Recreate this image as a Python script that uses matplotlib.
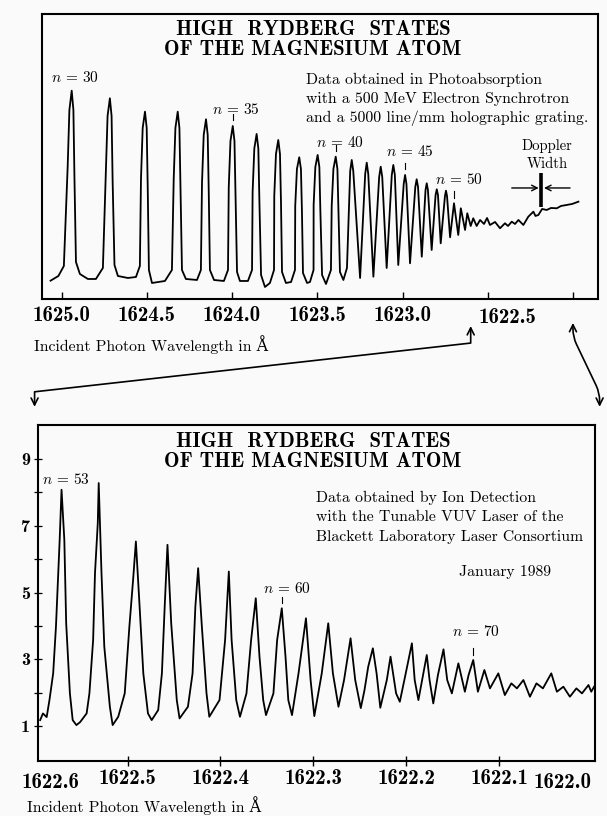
import matplotlib
matplotlib.use("Agg")
import matplotlib.pyplot as plt
from matplotlib.patches import ConnectionPatch
from matplotlib.transforms import blended_transform_factory

plt.rcParams['mathtext.fontset'] = 'cm'
plt.rcParams['axes.unicode_minus'] = False

# --- top panel: photoabsorption trace (wavelength in A, absorption arb. units)
top_wl = [1625.065, 1625.019, 1624.987, 1624.9645, 1624.9545, 1624.941, 1624.931, 1624.925,
          1624.916, 1624.893, 1624.846, 1624.799,
          1624.758, 1624.7405, 1624.7305, 1624.717, 1624.707, 1624.701, 1624.690, 1624.670,
          1624.611, 1624.564,
          1624.541, 1624.5345, 1624.5245, 1624.511, 1624.501, 1624.495,
          1624.488, 1624.470, 1624.394,
          1624.353, 1624.3425, 1624.3325, 1624.319, 1624.309, 1624.303,
          1624.294, 1624.271, 1624.206,
          1624.183, 1624.1765, 1624.1665, 1624.153, 1624.143, 1624.137,
          1624.130, 1624.106, 1624.048,
          1624.024, 1624.0195, 1624.0095, 1623.996, 1623.986, 1623.980,
          1623.971, 1623.954, 1623.907,
          1623.883, 1623.8795, 1623.8695, 1623.856, 1623.846, 1623.840,
          1623.830, 1623.807, 1623.778,
          1623.754, 1623.7525, 1623.7425, 1623.729, 1623.719, 1623.713,
          1623.707, 1623.684, 1623.654,
          1623.631, 1623.6295, 1623.6195, 1623.606, 1623.596, 1623.590,
          1623.584, 1623.560, 1623.543,
          1623.522, 1623.5215, 1623.5115, 1623.498, 1623.488, 1623.482,
          1623.472, 1623.449,
          1623.420, 1623.4155, 1623.4055, 1623.392, 1623.382, 1623.376,
          1623.367, 1623.347,
          1623.326, 1623.307, 1623.298, 1623.289, 1623.249,
          1623.219, 1623.210, 1623.201, 1623.171,
          1623.137, 1623.128, 1623.119, 1623.093,
          1623.063, 1623.054, 1623.045, 1623.025,
          1622.993, 1622.985, 1622.977, 1622.956,
          1622.925, 1622.917, 1622.909, 1622.887,
          1622.865, 1622.858, 1622.851, 1622.829,
          1622.806, 1622.799, 1622.792, 1622.776,
          1622.751, 1622.745, 1622.739, 1622.721,
          1622.698, 1622.673, 1622.658, 1622.633,
          1622.620, 1622.600, 1622.585, 1622.565, 1622.545, 1622.522, 1622.504, 1622.487,
          1622.457, 1622.428, 1622.399, 1622.381, 1622.359, 1622.340, 1622.320, 1622.291,
          1622.262, 1622.232, 1622.220, 1622.203, 1622.181, 1622.154, 1622.129, 1622.095,
          1622.070, 1622.036, 1622.005, 1621.968]
top_sig = [1.83, 2.30, 3.30, 13.3, 18.9, 20.83, 18.9, 12.3,
           3.70, 2.50, 2.00, 2.00,
           3.10, 12.8, 18.3, 20.07, 18.3, 11.9, 3.40, 2.30,
           2.10, 2.20,
           3.30, 12.0, 17.1, 18.73, 17.1, 11.2,
           2.90, 1.60, 1.80,
           2.90, 12.0, 17.1, 18.73, 17.1, 11.2,
           2.90, 2.00, 1.90,
           2.90, 11.6, 16.4, 17.97, 16.4, 10.8,
           2.90, 1.90, 1.80,
           2.90, 11.2, 15.8, 17.30, 15.8, 10.4,
           2.70, 1.80, 1.80,
           2.90, 10.7, 15.05, 16.50, 15.05, 10.0,
           2.40, 1.20, 1.60,
           2.90, 10.3, 14.5, 15.90, 14.5, 9.6,
           2.70, 1.60, 1.70,
           2.90, 9.3, 13.0, 14.17, 13.0, 8.7,
           2.60, 1.60, 1.70,
           2.90, 9.4, 13.2, 14.40, 13.2, 8.8,
           2.40, 1.50,
           2.90, 9.3, 13.0, 14.23, 13.0, 8.7,
           2.70, 1.90,
           3.10, 12.8, 13.90, 12.8, 2.10,
           12.5, 13.63, 12.5, 2.23,
           12.2, 13.23, 12.2, 3.10,
           12.4, 13.40, 12.4, 3.40,
           11.5, 12.40, 11.5, 3.57,
           11.2, 11.97, 11.2, 4.23,
           10.9, 11.57, 10.9, 4.90,
           10.4, 10.97, 10.4, 5.57,
           10.3, 10.83, 10.3, 6.17,
           9.57, 6.40, 9.07, 6.90,
           8.57, 7.30, 8.07, 7.30, 7.90, 7.50, 8.10, 7.40,
           7.70, 7.07, 7.57, 7.30, 7.73, 7.50, 7.90, 7.40,
           8.23, 8.73, 8.30, 8.40, 9.00, 8.90, 9.10, 9.07,
           9.30, 9.40, 9.50, 9.73]

top_ticks = [1625.0, 1624.5, 1624.0, 1623.5, 1623.0, 1622.5, 1622.0]
top_ticklabels = ['1625.0', '1624.5', '1624.0', '1623.5', '1623.0', '1622.5', '']

top_n = [30, 35, 40, 45, 50]
top_n_wl = [1624.941, 1623.996, 1623.392, 1622.985, 1622.698]
top_n_sig = [20.83, 17.30, 14.23, 12.40, 9.57]

# Doppler width marker
dop_left, dop_right = 1622.359, 1622.017
dop_tip_a, dop_tip_b = 1622.201, 1622.170
dop_bar = 1622.186
dop_level = 11.1
dop_bar_lo, dop_bar_hi = 9.2, 12.6

# --- bottom panel: ion detection trace
bot_wl = [1622.594, 1622.591, 1622.587, 1622.584, 1622.580, 1622.577, 1622.573, 1622.571,
          1622.568, 1622.566, 1622.562, 1622.559, 1622.555, 1622.551, 1622.544, 1622.541,
          1622.537, 1622.535, 1622.532, 1622.531, 1622.528, 1622.525, 1622.519, 1622.516,
          1622.510, 1622.503, 1622.498, 1622.494, 1622.491, 1622.487, 1622.483, 1622.478,
          1622.474, 1622.467, 1622.463, 1622.460, 1622.457, 1622.453, 1622.447, 1622.444,
          1622.435, 1622.430, 1622.427, 1622.424, 1622.420, 1622.415, 1622.412, 1622.401,
          1622.395, 1622.391, 1622.388, 1622.383, 1622.379, 1622.372, 1622.367, 1622.362,
          1622.358, 1622.354, 1622.351, 1622.343, 1622.339, 1622.334, 1622.330, 1622.327,
          1622.323, 1622.316, 1622.308, 1622.303, 1622.299, 1622.291, 1622.284, 1622.279,
          1622.273, 1622.267, 1622.260, 1622.255, 1622.249, 1622.245, 1622.241, 1622.236,
          1622.232, 1622.228, 1622.221, 1622.217, 1622.211, 1622.207, 1622.201, 1622.194,
          1622.191, 1622.187, 1622.183, 1622.178, 1622.175, 1622.171, 1622.166, 1622.160,
          1622.156, 1622.151, 1622.144, 1622.137, 1622.133, 1622.128, 1622.123, 1622.116,
          1622.110, 1622.101, 1622.094, 1622.087, 1622.081, 1622.074, 1622.067, 1622.060,
          1622.053, 1622.044, 1622.038, 1622.031, 1622.024, 1622.017, 1622.011, 1622.004,
          1622.001, 1621.998]
bot_sig = [1.18, 1.38, 1.27, 1.78, 2.58, 3.98, 6.58, 8.08,
           6.58, 4.08, 1.98, 1.18, 1.03, 1.12, 1.38, 1.98,
           3.58, 5.58, 7.08, 8.28, 5.58, 3.38, 1.58, 1.03,
           1.28, 1.98, 3.98, 5.38, 6.53, 4.58, 2.58, 1.38,
           1.18, 1.48, 2.58, 4.58, 6.43, 4.08, 1.78, 1.23,
           1.58, 2.58, 4.58, 5.73, 3.98, 1.98, 1.28, 1.78,
           3.58, 5.63, 3.58, 1.78, 1.28, 1.98, 3.58, 4.83,
           3.08, 1.78, 1.33, 1.98, 3.58, 4.53, 3.08, 1.78,
           1.33, 2.58, 4.23, 2.38, 1.30, 2.58, 4.08, 2.58,
           1.58, 2.38, 3.63, 2.38, 1.54, 2.08, 2.78, 3.33,
           2.58, 1.55, 2.38, 3.08, 1.98, 1.73, 2.53, 3.48,
           2.38, 1.78, 2.38, 3.13, 2.38, 1.68, 2.53, 3.30,
           2.38, 1.98, 2.88, 2.03, 2.53, 2.98, 2.03, 2.68,
           2.13, 2.58, 1.93, 2.28, 2.13, 2.38, 1.88, 2.28,
           2.13, 2.58, 2.03, 2.18, 1.88, 2.13, 1.98, 2.23,
           2.03, 2.18]

bot_ticks = [1622.5, 1622.4, 1622.3, 1622.2, 1622.1]
bot_ticklabels = ['1622.5', '1622.4', '1622.3', '1622.2', '1622.1']
bot_yticks = [1, 2, 3, 4, 5, 6, 7, 8, 9]
bot_yticklabels = ['1', '', '3', '', '5', '', '7', '', '9']

bot_n = [53, 60, 70]
bot_n_wl = [1622.571, 1622.334, 1622.128]
bot_n_sig = [8.08, 4.53, 2.98]

RM = ['cmr10', 'DejaVu Serif']
BF = ['cmb10', 'DejaVu Serif']
TICK_FS = 15
TITLE_FS = 15
TEXT_FS = 11.3

fig = plt.figure(figsize=(6.07, 8.16), dpi=100, facecolor='#fafafa')
ax1 = fig.add_axes([0.0687, 0.6336, 0.9165, 0.3493], facecolor='#fafafa')
ax2 = fig.add_axes([0.0631, 0.0668, 0.9171, 0.4124], facecolor='#fafafa')

for ax in (ax1, ax2):
    for sp in ax.spines.values():
        sp.set_linewidth(1.5)

# ---------------- top panel
ax1.plot(top_wl, top_sig, color='black', lw=1.3)
ax1.set_xlim(1625.117, 1621.853)
ax1.set_ylim(0, 28.5)
ax1.set_yticks([])
ax1.set_xticks(top_ticks)
ax1.set_xticklabels(top_ticklabels[:5] + ['', ''])
ax1.tick_params(axis='x', direction='in', length=5, width=1.0, pad=5, labelsize=TICK_FS)
for lab in ax1.get_xticklabels():
    lab.set_fontfamily(BF)
# 1622.5 label is pushed right of its tick to clear the arrow
ax1.annotate(top_ticklabels[5], xy=(top_ticks[5], 0), xycoords=ax1.get_xaxis_transform(),
             xytext=(14, -13.5), textcoords='offset points', ha='center', va='center',
             fontsize=TICK_FS, fontfamily=BF)

ax1.text(0.4877, 0.946, 'HIGH  RYDBERG  STATES', transform=ax1.transAxes,
         ha='center', va='center', fontsize=TITLE_FS, fontfamily=BF)
ax1.text(0.4877, 0.877, 'OF THE MAGNESIUM ATOM', transform=ax1.transAxes,
         ha='center', va='center', fontsize=TITLE_FS, fontfamily=BF)
for i, line in enumerate(['Data obtained in Photoabsorption',
                          'with a 500 MeV Electron Synchrotron',
                          'and a 5000 line/mm holographic grating.']):
    ax1.text(0.475, 0.768 - i * 0.0667, line, transform=ax1.transAxes,
             ha='left', va='center', fontsize=TEXT_FS, fontfamily=RM)
ax1.text(-0.0138, -0.161, 'Incident Photon Wavelength in Å', transform=ax1.transAxes,
         ha='left', va='center', fontsize=TEXT_FS, fontfamily=RM, clip_on=False)

top_off = {30: (2.4, 9.5), 35: (2.4, 12.2), 40: (3.1, 9.9), 45: (3.6, 16.6), 50: (3.6, 16.8)}
for n, x, y in zip(top_n, top_n_wl, top_n_sig):
    ax1.annotate(r'$n$ = %d' % n, xy=(x, y), xytext=top_off[n], textcoords='offset points',
                 ha='center', va='center', fontsize=11, fontfamily=RM)
    if n != 30:
        ax1.plot([x, x], [y + 0.55, y + 1.2], color='black', lw=0.8)

# Doppler width
ax1.text(1622.152, 15.3, 'Doppler', ha='center', va='center', fontsize=10.5, fontfamily=RM)
ax1.text(1622.152, 13.5, 'Width', ha='center', va='center', fontsize=10.5, fontfamily=RM)
ax1.annotate('', xy=(dop_tip_a, dop_level), xytext=(dop_left, dop_level),
             arrowprops=dict(arrowstyle='->', lw=1.0, color='black',
                             shrinkA=0, shrinkB=0))
ax1.annotate('', xy=(dop_tip_b, dop_level), xytext=(dop_right, dop_level),
             arrowprops=dict(arrowstyle='->', lw=1.0, color='black',
                             shrinkA=0, shrinkB=0))
ax1.plot([dop_bar, dop_bar], [dop_bar_lo, dop_bar_hi], color='black', lw=2.6,
         solid_capstyle='butt')

# ---------------- bottom panel
ax2.plot(bot_wl, bot_sig, color='black', lw=1.3)
ax2.set_xlim(1622.596, 1621.997)
ax2.set_ylim(-0.06, 10.02)
ax2.set_xticks(bot_ticks)
ax2.set_xticklabels(bot_ticklabels)
ax2.set_yticks(bot_yticks)
ax2.set_yticklabels(bot_yticklabels)
ax2.tick_params(axis='x', direction='inout', length=7, width=1.0, pad=2, labelsize=TICK_FS)
ax2.tick_params(axis='y', direction='inout', length=6, width=0.9, pad=3, labelsize=13)
for lab in ax2.get_xticklabels() + ax2.get_yticklabels():
    lab.set_fontfamily(BF)
# end labels sit inside the frame edges
ax2.annotate('1622.6', xy=(1622.6, 0), xycoords=ax2.get_xaxis_transform(),
             xytext=(11.5, -15), textcoords='offset points', ha='center', va='center',
             fontsize=TICK_FS, fontfamily=BF)
ax2.annotate('1622.0', xy=(1622.0, 0), xycoords=ax2.get_xaxis_transform(),
             xytext=(-21.5, -15), textcoords='offset points', ha='center', va='center',
             fontsize=TICK_FS, fontfamily=BF)

ax2.text(0.4934, 0.950, 'HIGH  RYDBERG  STATES', transform=ax2.transAxes,
         ha='center', va='center', fontsize=TITLE_FS, fontfamily=BF)
ax2.text(0.4934, 0.891, 'OF THE MAGNESIUM ATOM', transform=ax2.transAxes,
         ha='center', va='center', fontsize=TITLE_FS, fontfamily=BF)
for i, line in enumerate(['Data obtained by Ion Detection',
                          'with the Tunable VUV Laser of the',
                          'Blackett Laboratory Laser Consortium']):
    ax2.text(0.498, 0.782 - i * 0.057, line, transform=ax2.transAxes,
             ha='left', va='center', fontsize=TEXT_FS, fontfamily=RM)
ax2.text(0.838, 0.564, 'January 1989', transform=ax2.transAxes,
         ha='center', va='center', fontsize=TEXT_FS, fontfamily=RM)
ax2.text(-0.0203, -0.132, 'Incident Photon Wavelength in Å', transform=ax2.transAxes,
         ha='left', va='center', fontsize=TEXT_FS, fontfamily=RM, clip_on=False)

bot_off = {53: (3.1, 7.2), 60: (3.5, 14.4), 70: (1.9, 20.4)}
for n, x, y in zip(bot_n, bot_n_wl, bot_n_sig):
    ax2.annotate(r'$n$ = %d' % n, xy=(x, y), xytext=bot_off[n], textcoords='offset points',
                 ha='center', va='center', fontsize=11, fontfamily=RM)
    if n != 53:
        ax2.plot([x, x], [y + 0.15, y + 0.35], color='black', lw=0.8)

# ---------------- arrows linking the expanded range
trA = blended_transform_factory(ax1.transData, ax1.transAxes)
trB = blended_transform_factory(ax2.transData, ax2.transAxes)
con1 = ConnectionPatch(xyA=(1622.6, -0.095), coordsA=trA, xyB=(1622.6, 1.054), coordsB=trB,
                       arrowstyle='<->,head_length=0.5,head_width=0.25',
                       connectionstyle='arc,angleA=-90,armA=17,angleB=90,armB=15,rad=0',
                       lw=1.2, color='black')
con2 = ConnectionPatch(xyA=(1622.0, -0.084), coordsA=trA, xyB=(1621.992, 1.054), coordsB=trB,
                       arrowstyle='<->,head_length=0.5,head_width=0.25',
                       connectionstyle='arc,angleA=-90,armA=14,angleB=90,armB=14,rad=8',
                       lw=1.2, color='black')
fig.add_artist(con1)
fig.add_artist(con2)

fig.savefig('out.png', dpi=100, facecolor=fig.get_facecolor())
